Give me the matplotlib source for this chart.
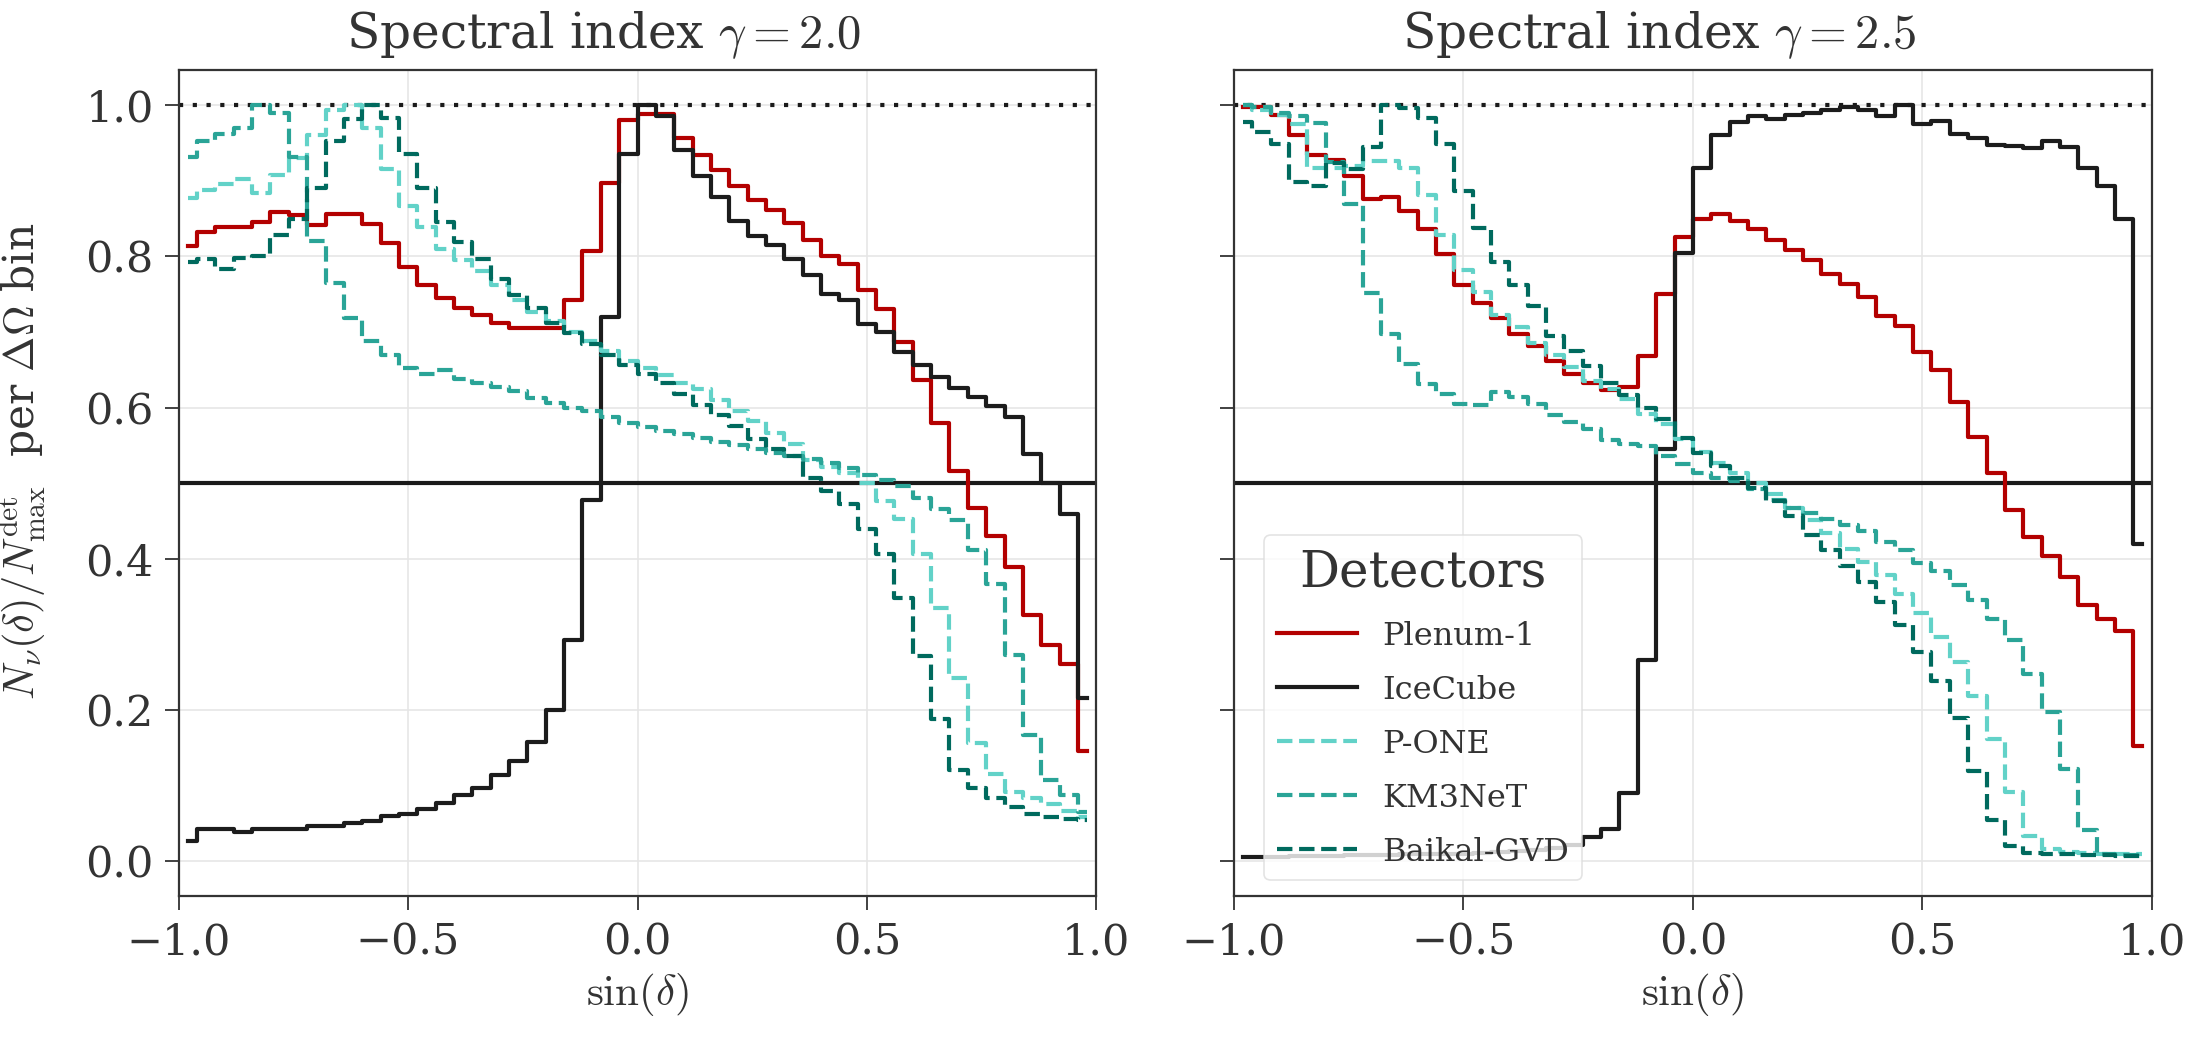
import matplotlib
matplotlib.use("Agg")
import matplotlib.pyplot as plt
import numpy as np

# sin(declination) bins: 50 bins on [-1, 1], values drawn at the bin centres
n_bins = 50
sin_dec = np.linspace(-1 + 1 / n_bins, 1 - 1 / n_bins, n_bins)

detectors = ["Plenum-1", "IceCube", "P-ONE", "KM3NeT", "Baikal-GVD"]
colors = ["#b30000", "#1c1c1c", "#62d2c8", "#2aa497", "#006a5e"]
styles = ["-", "-", "--", "--", "--"]

# spectral index 2.0
plenum_g20 = [0.814, 0.832, 0.839, 0.839, 0.846, 0.858, 0.855, 0.841, 0.856, 0.856,
              0.843, 0.818, 0.786, 0.762, 0.745, 0.732, 0.722, 0.712, 0.705, 0.705,
              0.705, 0.742, 0.807, 0.897, 0.980, 0.988, 0.988, 0.956, 0.934, 0.914,
              0.893, 0.875, 0.861, 0.844, 0.822, 0.800, 0.790, 0.756, 0.730, 0.687,
              0.637, 0.580, 0.516, 0.467, 0.430, 0.389, 0.326, 0.286, 0.261, 0.146]
icecube_g20 = [0.027, 0.043, 0.043, 0.038, 0.043, 0.043, 0.043, 0.046, 0.046, 0.050,
               0.053, 0.060, 0.063, 0.069, 0.077, 0.087, 0.097, 0.114, 0.133, 0.158,
               0.200, 0.292, 0.478, 0.720, 0.935, 1.000, 0.985, 0.940, 0.906, 0.878,
               0.847, 0.827, 0.815, 0.796, 0.775, 0.750, 0.742, 0.711, 0.700, 0.673,
               0.656, 0.640, 0.626, 0.614, 0.602, 0.587, 0.538, 0.500, 0.459, 0.216]
pone_g20 = [0.877, 0.888, 0.895, 0.902, 0.884, 0.907, 0.930, 0.960, 0.993, 1.000,
            0.970, 0.915, 0.867, 0.839, 0.810, 0.795, 0.780, 0.762, 0.742, 0.726,
            0.714, 0.700, 0.688, 0.675, 0.661, 0.652, 0.643, 0.632, 0.624, 0.610,
            0.596, 0.582, 0.566, 0.552, 0.531, 0.522, 0.513, 0.500, 0.477, 0.452,
            0.406, 0.335, 0.242, 0.156, 0.116, 0.092, 0.083, 0.076, 0.067, 0.058]
km3net_g20 = [0.931, 0.953, 0.962, 0.970, 1.000, 0.990, 0.932, 0.820, 0.765, 0.718,
              0.688, 0.670, 0.652, 0.645, 0.650, 0.638, 0.632, 0.627, 0.622, 0.612,
              0.606, 0.600, 0.595, 0.588, 0.580, 0.574, 0.569, 0.565, 0.560, 0.555,
              0.550, 0.545, 0.540, 0.536, 0.532, 0.527, 0.520, 0.511, 0.504, 0.496,
              0.480, 0.466, 0.451, 0.412, 0.366, 0.273, 0.167, 0.107, 0.087, 0.065]
baikal_g20 = [0.792, 0.797, 0.783, 0.798, 0.800, 0.828, 0.849, 0.891, 0.953, 0.981,
              1.000, 0.983, 0.935, 0.890, 0.845, 0.819, 0.796, 0.770, 0.749, 0.731,
              0.712, 0.698, 0.684, 0.670, 0.656, 0.645, 0.632, 0.618, 0.603, 0.590,
              0.575, 0.558, 0.545, 0.536, 0.507, 0.490, 0.472, 0.439, 0.406, 0.348,
              0.272, 0.188, 0.120, 0.097, 0.083, 0.072, 0.063, 0.058, 0.056, 0.054]

# spectral index 2.5
plenum_g25 = [0.998, 0.997, 0.987, 0.961, 0.934, 0.928, 0.906, 0.876, 0.879, 0.860,
              0.836, 0.803, 0.762, 0.738, 0.718, 0.697, 0.681, 0.662, 0.644, 0.633,
              0.623, 0.627, 0.668, 0.750, 0.825, 0.850, 0.856, 0.847, 0.836, 0.822,
              0.808, 0.795, 0.777, 0.763, 0.746, 0.721, 0.708, 0.673, 0.649, 0.607,
              0.561, 0.513, 0.464, 0.429, 0.404, 0.376, 0.339, 0.321, 0.304, 0.153]
icecube_g25 = [0.006, 0.006, 0.006, 0.007, 0.007, 0.007, 0.008, 0.008, 0.008, 0.009,
               0.009, 0.010, 0.010, 0.011, 0.012, 0.013, 0.015, 0.018, 0.022, 0.032,
               0.043, 0.090, 0.266, 0.545, 0.804, 0.917, 0.961, 0.977, 0.985, 0.981,
               0.987, 0.990, 0.994, 0.998, 0.993, 0.986, 1.000, 0.975, 0.979, 0.962,
               0.957, 0.947, 0.946, 0.943, 0.952, 0.944, 0.917, 0.893, 0.850, 0.420]
pone_g25 = [1.000, 0.993, 0.987, 0.975, 0.917, 0.917, 0.920, 0.926, 0.926, 0.917,
            0.881, 0.828, 0.782, 0.753, 0.723, 0.706, 0.686, 0.670, 0.653, 0.635,
            0.624, 0.611, 0.592, 0.578, 0.558, 0.541, 0.527, 0.513, 0.500, 0.485,
            0.467, 0.451, 0.434, 0.413, 0.396, 0.378, 0.354, 0.328, 0.297, 0.264,
            0.219, 0.162, 0.091, 0.034, 0.016, 0.012, 0.011, 0.010, 0.009, 0.009]
km3net_g25 = [1.000, 0.997, 0.990, 0.986, 0.976, 0.925, 0.869, 0.751, 0.697, 0.657,
              0.631, 0.618, 0.605, 0.603, 0.620, 0.614, 0.605, 0.590, 0.581, 0.571,
              0.557, 0.552, 0.549, 0.536, 0.525, 0.514, 0.507, 0.503, 0.492, 0.478,
              0.467, 0.460, 0.452, 0.445, 0.437, 0.422, 0.411, 0.394, 0.384, 0.365,
              0.345, 0.321, 0.292, 0.247, 0.197, 0.122, 0.041, 0.010, 0.008, 0.008]
baikal_g25 = [0.978, 0.965, 0.948, 0.898, 0.893, 0.924, 0.915, 0.945, 1.000, 0.996,
              0.983, 0.948, 0.886, 0.837, 0.793, 0.762, 0.734, 0.694, 0.675, 0.655,
              0.633, 0.616, 0.600, 0.585, 0.560, 0.540, 0.523, 0.507, 0.494, 0.477,
              0.456, 0.432, 0.412, 0.390, 0.369, 0.343, 0.312, 0.277, 0.239, 0.190,
              0.119, 0.055, 0.020, 0.011, 0.010, 0.009, 0.008, 0.008, 0.007, 0.007]

gammas = ["2.0", "2.5"]
curves = [
    [plenum_g20, icecube_g20, pone_g20, km3net_g20, baikal_g20],
    [plenum_g25, icecube_g25, pone_g25, km3net_g25, baikal_g25],
]

plt.rcParams["font.family"] = ["DejaVu Serif"]
plt.rcParams["mathtext.fontset"] = "cm"
plt.rcParams["text.color"] = "#333333"
plt.rcParams["axes.labelcolor"] = "#333333"
plt.rcParams["xtick.color"] = "#333333"
plt.rcParams["ytick.color"] = "#333333"

fig = plt.figure(figsize=(21.9, 10.38), dpi=100)
ax1 = fig.add_axes([0.0816, 0.1368, 0.419, 0.7962])
ax2 = fig.add_axes([0.5635, 0.1368, 0.419, 0.7962], sharey=ax1)

for ax, gamma, series in zip([ax1, ax2], gammas, curves):
    ax.grid(True, color="#e6e6e6", lw=1.2, zorder=0)
    ax.axhline(1.0, color="#1a1a1a", lw=3, ls=(0, (1, 2.3)), zorder=2)
    ax.axhline(0.5, color="#1a1a1a", lw=3, zorder=2)
    for name, vals, c, ls in zip(detectors, series, colors, styles):
        ax.step(sin_dec, vals, where="mid", color=c, ls=ls, lw=3, label=name, zorder=3)
    ax.set_xlim(-1, 1)
    ax.set_ylim(-0.046, 1.047)
    ax.set_xticks([-1.0, -0.5, 0.0, 0.5, 1.0])
    ax.set_yticks([0.0, 0.2, 0.4, 0.6, 0.8, 1.0])
    ax.tick_params(labelsize=31, length=10, width=1.3, pad=8)
    for s in ax.spines.values():
        s.set_color("#333333")
        s.set_linewidth(1.6)
    ax.text(0.463, 1.026, r"Spectral index $\gamma = " + gamma + "$", fontsize=35,
            ha="center", va="baseline", transform=ax.transAxes)
    ax.set_xlabel(r"$\sin(\delta)$", fontsize=31, labelpad=6)

ax1.set_ylabel(r"$N_\nu(\delta)/N_{\rm max}^{\rm det}$  per $\Delta\Omega$ bin", fontsize=30.5)
ax1.yaxis.set_label_coords(-0.142, 0.526)
ax2.tick_params(labelleft=False)

leg = ax2.legend(title="Detectors", loc="lower left", bbox_to_anchor=(0.033, 0.019),
                 borderaxespad=0, fontsize=23, title_fontsize=36, handlelength=2.5,
                 labelspacing=0.72, framealpha=0.8, edgecolor="#dddddd", fancybox=True)
leg.get_frame().set_linewidth(1.2)

fig.savefig("out.png", dpi=100)
